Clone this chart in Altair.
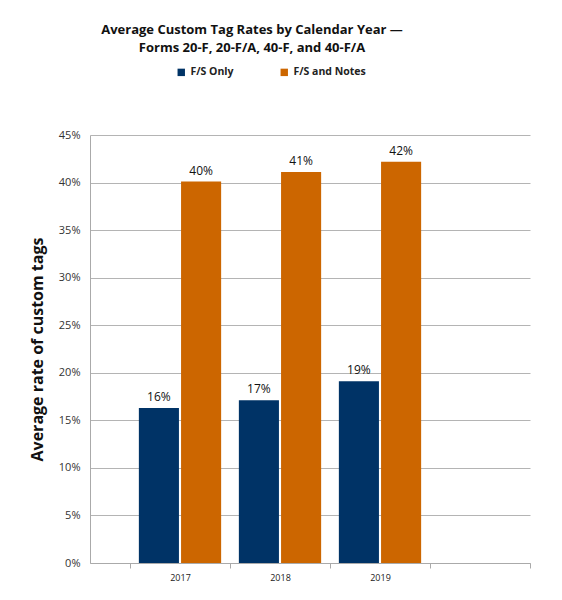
import altair as alt
import pandas as pd

years = ['2017', '2018', '2019']
fs_only = [0.163, 0.171, 0.191]
fs_notes = [0.401, 0.411, 0.422]
series = ['F/S Only', 'F/S and Notes']
colors = ['#003366', '#CC6600']

data = pd.DataFrame({
    'year': years * 2,
    'series': [series[0]] * 3 + [series[1]] * 3,
    'rate': fs_only + fs_notes,
})

font = 'Open Sans'

# 4 bands (last one empty), all outer padding pushed to the left
x_scale = alt.Scale(domain=years + [''], paddingInner=0, paddingOuter=0.2, align=1)
y_scale = alt.Scale(domain=[0, 0.45])
off = alt.XOffset('series:N', sort=series, scale=alt.Scale(paddingInner=0.05, paddingOuter=0.21))

bars = alt.Chart(data).mark_bar().encode(
    x=alt.X('year:N', title=None, scale=x_scale,
            axis=alt.Axis(labelAngle=0, tickBand='extent', tickSize=5, tickColor='#aaaaaa',
                          domainColor='#aaaaaa', labelFont=font, labelFontSize=9, labelColor='#222222',
                          labelPadding=5, grid=False)),
    xOffset=off,
    y=alt.Y('rate:Q', title='Average rate of custom tags', scale=y_scale,
            axis=alt.Axis(format='%', values=[i / 100 for i in range(0, 46, 5)],
                          ticks=False, domainColor='#aaaaaa', gridColor='#b4b4b4',
                          labelFont=font, labelFontSize=11, labelColor='#333333', labelPadding=10,
                          titleFont=font, titleFontSize=16, titleFontWeight='bold',
                          titleColor='#111111', titlePadding=13)),
    color=alt.Color('series:N', sort=series, title=None,
                    scale=alt.Scale(domain=series, range=colors),
                    legend=alt.Legend(orient='none', direction='horizontal', legendX=86, legendY=-68,
                                      symbolType='square', symbolSize=55, symbolStrokeWidth=0,
                                      labelFont=font, labelFontSize=10.5, labelFontWeight='bold',
                                      labelColor='#222222', columnPadding=45)),
)

labels = alt.Chart(data).mark_text(baseline='bottom', dy=-4, font=font, fontSize=12, color='#111111').encode(
    x=alt.X('year:N', scale=x_scale, axis=None),
    xOffset=off,
    y=alt.Y('rate:Q', scale=y_scale, axis=None),
    text=alt.Text('rate:Q', format='.0%'),
)

chart = alt.layer(bars, labels).resolve_axis(x='independent', y='independent').properties(
    width=440,
    height=428,
    padding={'left': 82, 'top': 127, 'right': 24, 'bottom': 30},
    autosize=alt.AutoSizeParams(type='none'),
    title=alt.TitleParams(
        ['Average Custom Tag Rates by Calendar Year \u2014', 'Forms 20-F, 20-F/A, 40-F, and 40-F/A'],
        font=font, fontSize=13, fontWeight='bold', color='#111111', lineHeight=18,
        anchor='middle', dx=-58, offset=12,
    ),
).configure_view(stroke=None)

chart.save('out.html', embed_options={'renderer': 'svg', 'actions': False})
